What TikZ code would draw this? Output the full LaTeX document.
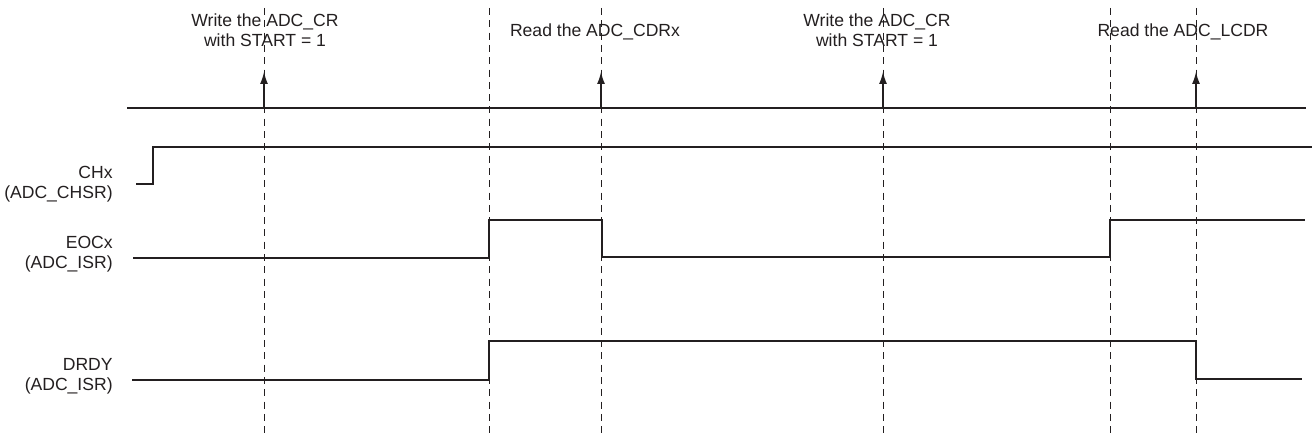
\documentclass[tikz,border=0pt]{standalone}
\usepackage{fontspec}
\setmainfont{Liberation Sans}
\usetikzlibrary{arrows.meta,positioning}
\definecolor{tgink}{HTML}{231F20}
\tikzset{
  tgwave/.style={draw=tgink, line width=1.1pt},
  tgmark/.style={draw=tgink, dashed, line width=0.5pt, dash pattern=on 4pt off 3pt},
  tgarrow/.style={-{Latex[length=2.4mm,width=1.6mm]}, line width=0.7pt, draw=tgink},
  tgsig/.style={align=right, anchor=east, text=tgink, inner sep=0pt},
  tgnote/.style={align=center, text=tgink, inner sep=0pt}
}

\begin{document}
\begin{tikzpicture}[font=\fontsize{10}{11.6}\selectfont]
\useasboundingbox (0,0) rectangle (26.24,8.8);
% event instants
\coordinate (w1) at (5.28,6.64);
\coordinate (c1) at (9.78,6.64);
\coordinate (r1) at (12.02,6.64);
\coordinate (w2) at (17.66,6.64);
\coordinate (c2) at (22.20,6.64);
\coordinate (r2) at (23.92,6.64);
% dashed markers
\draw[tgmark] (5.28,8.64) -- (5.28,0.04);
\draw[tgmark] (9.78,8.64) -- (9.78,0.04);
\draw[tgmark] (12.02,8.64) -- (12.02,0.04);
\draw[tgmark] (17.66,8.64) -- (17.66,0.04);
\draw[tgmark] (22.20,8.64) -- (22.20,0.04);
\draw[tgmark] (23.92,8.64) -- (23.92,0.04);
% software accesses
\coordinate (bus0) at (2.54,6.64);
\coordinate (bus1) at (26.12,6.64);
\draw[tgwave] (bus0) -- (bus1);
\coordinate (w1t) at (5.28,7.36);
\coordinate (r1t) at (12.02,7.36);
\coordinate (w2t) at (17.66,7.36);
\coordinate (r2t) at (23.92,7.36);
\draw[tgarrow] (w1) -- (w1t);
\draw[tgarrow] (r1) -- (r1t);
\draw[tgarrow] (w2) -- (w2t);
\draw[tgarrow] (r2) -- (r2t);
\node[tgnote] (wr1) at (5.30,8.20) {Write the ADC\_CR\\with START = 1};
\node[tgnote] (rd1) at (11.90,8.16) {Read the ADC\_CDRx};
\node[tgnote] (wr2) at (17.54,8.20) {Write the ADC\_CR\\with START = 1};
\node[tgnote] (rd2) at (23.66,8.16) {Read the ADC\_LCDR};
% signal names
\node[tgsig] (chx) at (2.26,5.12) {CHx\\(ADC\_CHSR)};
\node[tgsig] (eoc) at (2.26,3.72) {EOCx\\(ADC\_ISR)};
\node[tgsig] (drdy) at (2.26,1.28) {DRDY\\(ADC\_ISR)};
% waveforms
\draw[tgwave] (2.72,5.12) -- (3.06,5.12) -- (3.06,5.86) -- (26.24,5.86);
\draw[tgwave] (2.66,3.64) -- (9.78,3.64) -- (9.78,4.40) -- (12.04,4.40)
  -- (12.04,3.66) -- (22.20,3.66) -- (22.20,4.40) -- (26.10,4.40);
\draw[tgwave] (2.64,1.20) -- (9.78,1.20) -- (9.78,1.98) -- (23.92,1.98)
  -- (23.92,1.22) -- (26.04,1.22);
\end{tikzpicture}
\end{document}
